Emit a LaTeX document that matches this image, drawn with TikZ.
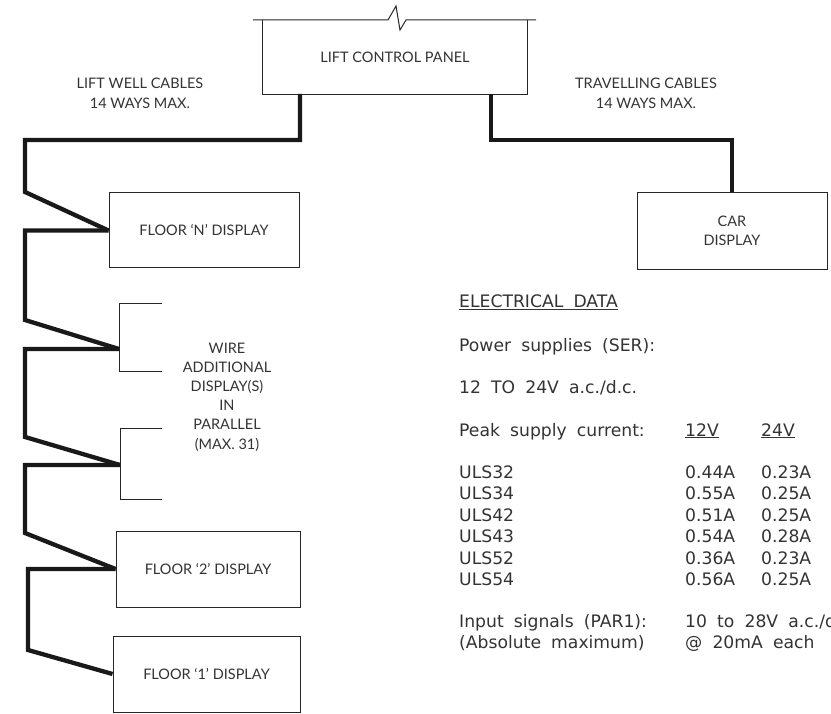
\documentclass[tikz,border=0pt]{standalone}
\usepackage{fontspec}
\newfontfamily\labfont{Lato}
\newfontfamily\datfont[WordSpace=1.85]{DejaVu Sans}
\begin{document}
\begin{tikzpicture}[x=1pt,y=-1pt,
  thinline/.style={draw=black!85,line width=1pt},
  cable/.style={draw=black!90,line width=4.3pt,line join=miter},
  dbox/.style={thinline,inner sep=0pt,align=center,text=black!80,
    font=\labfont\fontsize{14.5}{19}\selectfont},
  lbl/.style={inner sep=0pt,align=center,text=black!80,
    font=\labfont\fontsize{14.5}{20}\selectfont},
  dat/.style={inner sep=0pt,anchor=base west,text=black!80,
    font=\datfont\fontsize{17.2}{21.5}\selectfont}]
\useasboundingbox (0,0) rectangle (831,714);

% lift control panel
\node[lbl,minimum width=264pt,minimum height=74pt] (p) at (395,57) {\raisebox{-4pt}{LIFT CONTROL PANEL}};
\draw[thinline] (p.north west) -- (p.south west) -- (p.south east) -- (p.north east);
\coordinate (t0) at (253,20);
\coordinate (t1) at (536,20);
\draw[thinline] (t0) -- (388,20) -- (396,6) -- (400,30) -- (406,20) -- (t1);

% display boxes
\node[dbox,minimum width=190pt,minimum height=75pt] (fn) at (204,230.5) {FLOOR ‘N’ DISPLAY};
\node[dbox,minimum width=184pt,minimum height=76pt] (f2) at (208,569) {FLOOR ‘2’ DISPLAY};
\node[dbox,minimum width=187pt,minimum height=76pt] (f1) at (206.5,674) {FLOOR ‘1’ DISPLAY};
\node[dbox,minimum width=190pt,minimum height=77pt] (car) at (732,231) {CAR\\DISPLAY};

% cable labels
\node[lbl] (lw) at (140,93) {LIFT WELL CABLES\\14 WAYS MAX.};
\node[lbl] (tc) at (646,93) {TRAVELLING CABLES\\14 WAYS MAX.};
\node[lbl,font=\labfont\fontsize{14.5}{19.2}\selectfont] (wa) at (227,397)
  {WIRE\\ADDITIONAL\\DISPLAY(S)\\IN\\PARALLEL\\(MAX. 31)};

% brackets
\coordinate (j1) at (119,349);
\coordinate (j2) at (120,465);
\draw[thinline] (162,304) -- (119,304) -- (119,372) -- (162,372);
\draw[thinline] (162,428) -- (120,428) -- (120,499) -- (162,499);

% lift well cable
\coordinate (pl) at (300,94);
\coordinate (pr) at (491,94);
\draw[cable] (pl) -- (300,140) -- (25,140) -- (25,192) -- (fn.west);
\draw[cable] (fn.west) -- (25,230.5) -- (25,320) -- (j1);
\draw[cable] (j1) -- (25,349) -- (25,437) -- (j2);
\draw[cable] (j2) -- (25,465) -- (25,533) -- (f2.west);
\draw[cable] (f2.west) -- (28,569) -- (28,650) -- (f1.west);

% travelling cable
\draw[cable] (pr) -- (491,140) -- (732,140) -- (car.north);

% electrical data
\node[dat] (e0) at (459,308) {\underline{ELECTRICAL DATA}};
\node[dat] (e1) at (459,352) {Power supplies (SER):};
\node[dat] (e2) at (459,393) {12 TO 24V a.c./d.c.};
\node[dat] (e3) at (459,436) {Peak supply current:};
\node[dat] (e3a) at (685,436) {\underline{12V}};
\node[dat] (e3b) at (761,436) {\underline{24V}};
\foreach \n/\a/\b [count=\i] in {ULS32/0.44A/0.23A,ULS34/0.55A/0.25A,ULS42/0.51A/0.25A,ULS43/0.54A/0.28A,ULS52/0.36A/0.23A,ULS54/0.56A/0.25A}{
  \node[dat] (u\i) at (459,456.5+21.5*\i) {\n};
  \node[dat] (ua\i) at (685,456.5+21.5*\i) {\a};
  \node[dat] (ub\i) at (761,456.5+21.5*\i) {\b};
}
\node[dat] (s1) at (459,627) {Input signals (PAR1):};
\node[dat] (s1v) at (685,627) {10 to 28V a.c./d.c.};
\node[dat] (s2) at (459,648) {(Absolute maximum)};
\node[dat] (s2v) at (685,648) {@ 20mA each};
\end{tikzpicture}
\end{document}
